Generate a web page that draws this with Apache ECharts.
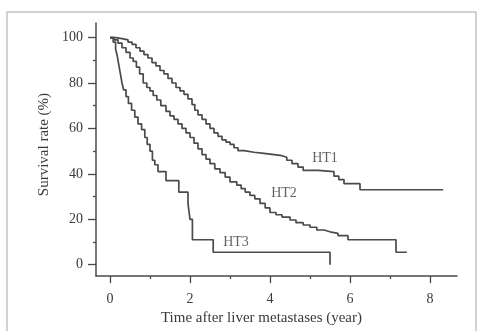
<!DOCTYPE html>
<html>
<head>
<meta charset="utf-8">
<script src="https://cdn.jsdelivr.net/npm/echarts@6/dist/echarts.min.js"></script>
<style>html,body{margin:0;padding:0;background:#fff}#c{width:478px;height:331px}</style>
</head>
<body>
<div id="c"></div>
<script>
// Kaplan-Meier style survival curves: [time (year), survival rate (%)]
var ht1 = [[0,100],[0.15,99.5],[0.3,99],[0.45,98],[0.55,97],[0.65,95.5],[0.75,94],[0.85,92.5],[0.95,91],[1.05,89],[1.15,87.5],[1.25,85.5],[1.35,84],[1.45,82],[1.55,80],[1.65,78],[1.75,76.5],[1.85,75],[1.95,73],[2.05,70.5],[2.12,68],[2.2,66],[2.3,64],[2.4,62],[2.5,60],[2.6,58],[2.7,56.5],[2.8,55],[2.9,54],[3.0,53],[3.1,51.5],[3.2,50.2],[3.35,49.5],[3.6,49],[3.85,48.5],[4.1,48],[4.3,47.3],[4.42,46],[4.55,44.5],[4.7,43],[4.83,41.5],[5.2,41],[5.6,39],[5.72,37.5],[5.85,35.7],[6.25,33],[8.33,33]];
var ht2 = [[0,100],[0.1,99],[0.2,97.5],[0.3,95.5],[0.4,93.5],[0.5,91],[0.58,89.5],[0.66,87],[0.74,84],[0.83,80],[0.92,78],[1.0,76.5],[1.08,74.5],[1.17,72.5],[1.27,70],[1.4,67.5],[1.5,65.5],[1.6,64],[1.7,62],[1.8,60],[1.9,58],[2.0,56],[2.1,53.5],[2.2,51],[2.3,48.5],[2.4,46.5],[2.5,44.5],[2.62,42.2],[2.75,40.5],[2.88,38.6],[3.0,36.5],[3.17,35],[3.28,33.5],[3.38,32],[3.5,30.5],[3.62,29],[3.75,27],[3.88,25],[4.0,23],[4.15,22],[4.3,21],[4.5,19.7],[4.65,18.5],[4.83,17.5],[5.0,16.5],[5.17,15.3],[5.35,14.5],[5.5,13.8],[5.7,12.8],[5.95,11],[7.15,5.5],[7.42,5.5]];
var ht3 = [[0,100],[0.08,98],[0.14,95],[0.18,92],[0.22,88],[0.26,84],[0.3,80],[0.34,77],[0.4,74],[0.46,71],[0.54,68],[0.62,65],[0.7,62],[0.79,59.5],[0.87,56],[0.93,53],[1.0,50],[1.06,46],[1.12,44],[1.2,41],[1.4,37],[1.72,32],[1.95,27],[2.0,20],[2.06,11],[2.58,5.5],[5.5,0]];

var seriesNames = ['HT1', 'HT2', 'HT3'];
var labelPos = [[5.375, 47], [4.35, 31.3], [3.15, 9.9]];

var xTicks = [0, 2, 4, 6, 8];
var xMinorTicks = [1, 3, 5, 7];
var yTicks = [0, 20, 40, 60, 80, 100];
var yMinorTicks = [10, 30, 50, 70, 90];

var xTitle = 'Time after liver metastases (year)';
var yTitle = 'Survival rate (%)';

var FONT = '"Liberation Serif", "DejaVu Serif", serif';
var INK = '#4a4a4a';
var TXT = '#3a3a3a';

var chart = echarts.init(document.getElementById('c'), null, {renderer: 'canvas'});

function axisCommon(ticks, len, showLabel) {
  return {
    type: 'value',
    axisLine: {show: true, onZero: false, lineStyle: {color: INK, width: 1.5}},
    axisTick: {show: true, customValues: ticks, length: len, inside: false, lineStyle: {color: INK, width: 1.3}},
    axisLabel: {show: showLabel, customValues: ticks, color: TXT, fontFamily: FONT, fontSize: 14},
    splitLine: {show: false}
  };
}

var x1 = axisCommon(xTicks, 7, true);
x1.min = -0.35; x1.max = 8.675; x1.position = 'bottom';
x1.axisLabel.margin = 16;
x1.name = xTitle; x1.nameLocation = 'middle'; x1.nameGap = 34;
x1.nameTextStyle = {color: TXT, fontFamily: FONT, fontSize: 15, padding: [0, 30, 0, 0]};
var x2 = axisCommon(xMinorTicks, 3, false);
x2.min = -0.35; x2.max = 8.675; x2.position = 'bottom'; x2.axisLine.show = false;

var y1 = axisCommon(yTicks, 8, true);
y1.min = -5; y1.max = 106.4; y1.position = 'left';
y1.axisLabel.margin = 13;
y1.name = yTitle; y1.nameLocation = 'middle'; y1.nameGap = 44;
y1.nameTextStyle = {color: TXT, fontFamily: FONT, fontSize: 15, padding: [0, 0, 0, 10]};
var y2 = axisCommon(yMinorTicks, 3, false);
y2.min = -5; y2.max = 106.4; y2.position = 'left'; y2.axisLine.show = false;

function curve(name, data) {
  return {
    name: name, type: 'line', step: 'end', data: data,
    xAxisIndex: 0, yAxisIndex: 0,
    showSymbol: false, symbol: 'none', silent: true, animation: false,
    lineStyle: {color: INK, width: 1.7}
  };
}

var labelData = seriesNames.map(function (n, i) {
  return {name: n, value: labelPos[i]};
});

chart.setOption({
  backgroundColor: '#ffffff',
  animation: false,
  grid: {left: 96, right: 21, top: 23, bottom: 53, containLabel: false},
  graphic: [{
    type: 'rect', silent: true,
    shape: {x: 7, y: 12, width: 469, height: 320},
    style: {fill: 'none', stroke: '#c4c4c4', lineWidth: 1.5}
  }],
  xAxis: [x1, x2],
  yAxis: [y1, y2],
  series: [
    curve(seriesNames[0], ht1),
    curve(seriesNames[1], ht2),
    curve(seriesNames[2], ht3),
    {
      type: 'scatter', data: labelData, symbolSize: 0, silent: true,
      label: {show: true, position: 'inside', formatter: '{b}', color: TXT, fontFamily: FONT, fontSize: 14}
    }
  ]
});
</script>
</body>
</html>
